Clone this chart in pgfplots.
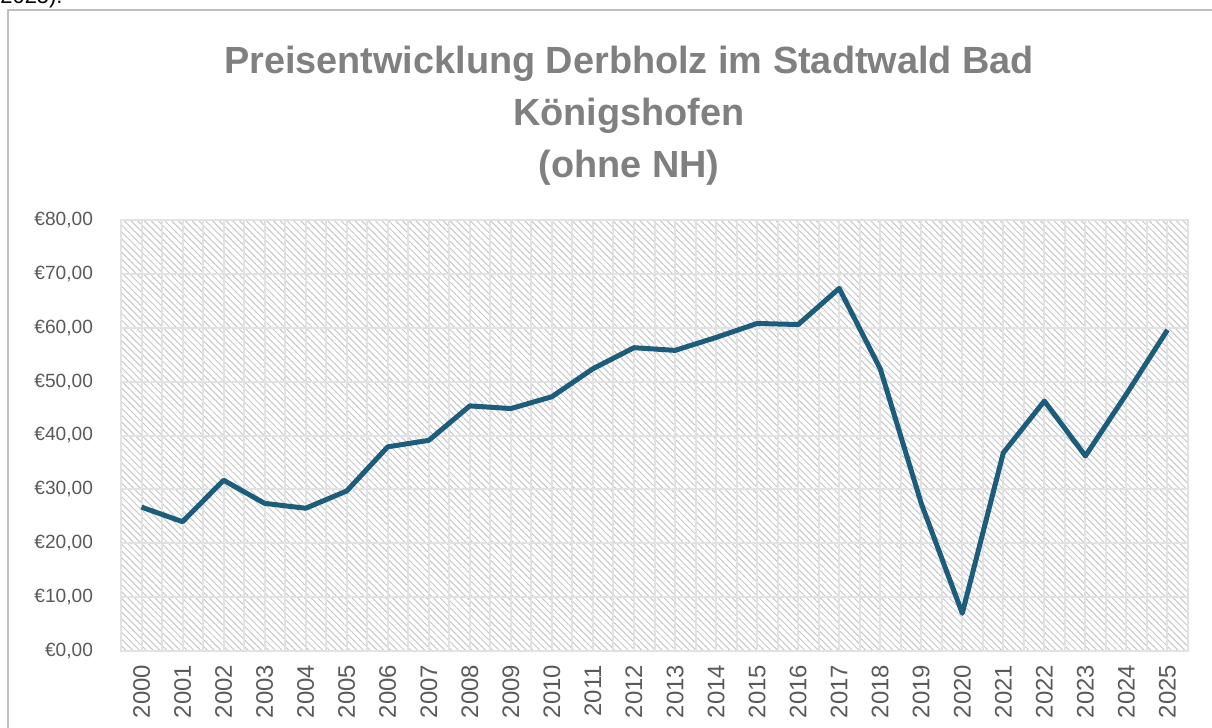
\documentclass[border=0pt]{standalone}
\usepackage{fontspec}
\setmainfont{Liberation Sans}
\usepackage{pgfplots}
\usepackage{pgfplotstable}
\pgfplotsset{compat=1.18}
\usetikzlibrary{patterns.meta}
\definecolor{linecol}{RGB}{28,93,124}
\definecolor{gridcol}{RGB}{226,226,226}
\definecolor{labcol}{RGB}{89,89,89}
\definecolor{titlecol}{RGB}{128,128,128}

% price per year (EUR)
\pgfplotstableread{
x year price
0 2000 26.7
1 2001 24.0
2 2002 31.7
3 2003 27.4
4 2004 26.5
5 2005 29.7
6 2006 37.9
7 2007 39.1
8 2008 45.5
9 2009 45.0
10 2010 47.2
11 2011 52.4
12 2012 56.3
13 2013 55.8
14 2014 58.2
15 2015 60.8
16 2016 60.6
17 2017 67.3
18 2018 52.4
19 2019 27.4
20 2020 7.0
21 2021 36.8
22 2022 46.4
23 2023 36.2
24 2024 47.7
25 2025 59.6
}\pricedata

\begin{document}
\begin{tikzpicture}
\useasboundingbox (0,0) rectangle (606bp,364bp);
\begin{scope}
  \clip (0,0) rectangle (606bp,364bp);
  \node[anchor=base west, inner sep=0pt, font=\fontsize{11}{13}\selectfont] at (0bp,362.3bp) {2025).};
\end{scope}
\draw[gridcol!85!black, line width=1bp] (4bp,0) -- (4bp,359bp) -- (606bp,359bp);
\node[font=\bfseries\fontsize{19}{26}\selectfont, text=titlecol, align=center, anchor=north]
  at (314.5bp,344.5bp) {Preisentwicklung Derbholz im Stadtwald Bad\\Königshofen\\(ohne NH)};
\begin{axis}[
  at={(60.5bp,38.5bp)}, anchor=south west,
  scale only axis, width=533.5bp, height=215.5bp,
  xmin=-0.5, xmax=25.5, ymin=0, ymax=80,
  xtick={0,...,25},
  xticklabels={2000,2001,2002,2003,2004,2005,2006,2007,2008,2009,2010,2011,2012,
    2013,2014,2015,2016,2017,2018,2019,2020,2021,2022,2023,2024,2025},
  minor xtick={-0.5,0.5,...,25.5},
  ytick={0,10,...,80},
  yticklabels={{€0,00},{€10,00},{€20,00},{€30,00},{€40,00},{€50,00},{€60,00},{€70,00},{€80,00}},
  grid=both,
  major grid style={gridcol, line width=1bp},
  minor grid style={gridcol, line width=1bp},
  major tick length=0pt, minor tick length=0pt,
  axis line style={gridcol, line width=1bp},
  x axis line style={draw=gridcol!85!black},
  axis background/.style={pattern={Lines[angle=-45,distance=2.4bp,line width=0.5bp]}, pattern color=gridcol!88!black},
  xticklabel style={rotate=90, anchor=east, font=\fontsize{12}{14}\selectfont, text=labcol},
  xticklabel shift=3.5bp,
  yticklabel style={anchor=east, font=\fontsize{9.6}{12}\selectfont, text=labcol},
  yticklabel shift=10.5bp,
]
\addplot[linecol, line width=2.5bp, line join=round] table[x=x, y=price] {\pricedata};
\end{axis}
\end{tikzpicture}
\end{document}
